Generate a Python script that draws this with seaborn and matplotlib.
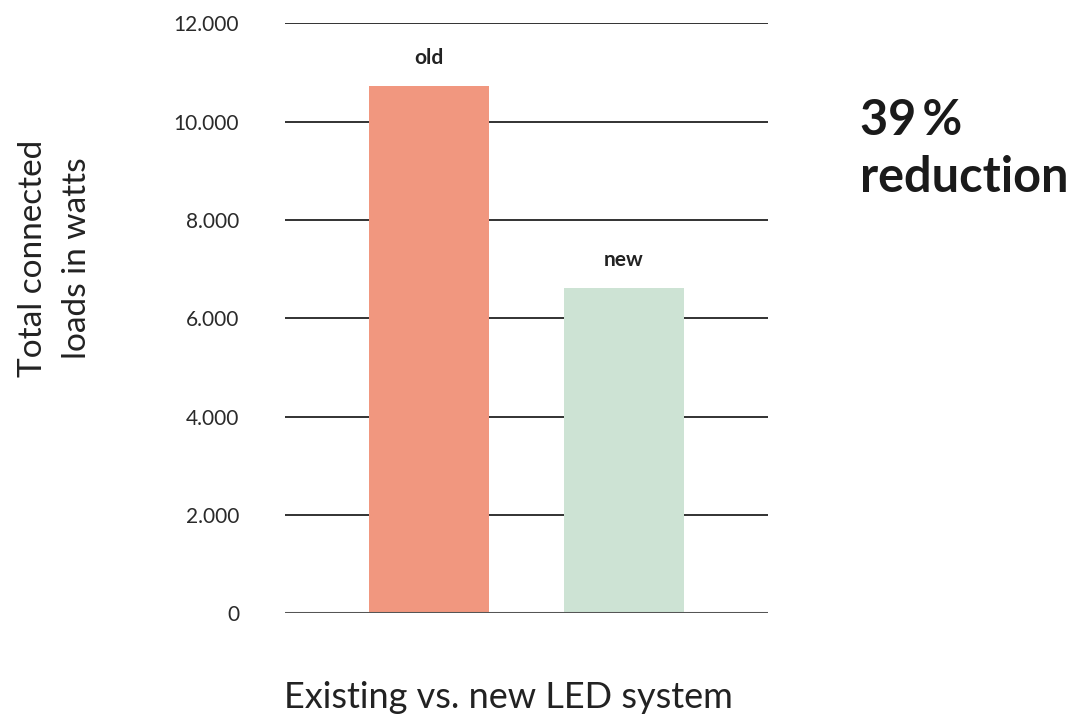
import pandas as pd
import matplotlib
matplotlib.use("Agg")
import matplotlib.pyplot as plt
from matplotlib.ticker import FuncFormatter
import seaborn as sns

# data
systems = ["old", "new"]
watts = [10730, 6620]
bar_colors = ["#F1977F", "#CDE3D4"]
y_ticks = [0, 2000, 4000, 6000, 8000, 10000, 12000]

df = pd.DataFrame({"system": systems, "watts": watts})

sns.set_style("white")
plt.rcParams["font.family"] = ["Lato", "DejaVu Sans"]

fig = plt.figure(figsize=(10.81, 7.17), dpi=100)
ax = fig.add_axes([0.2636, 0.1444, 0.4468, 0.8231])

sns.barplot(data=df, x="system", y="watts", hue="system",
            palette=bar_colors, width=0.615, legend=False, ax=ax,
            saturation=1, linewidth=0)

ax.set_xlim(-0.738, 1.738)
ax.set_ylim(0, 12000)
ax.set_yticks(y_ticks)
ax.yaxis.set_major_formatter(FuncFormatter(lambda v, p: f"{int(v):,}".replace(",", ".")))
ax.tick_params(axis="y", length=0, pad=33, labelsize=15, labelcolor="#2a2a2a")
ax.set_xticks([])
ax.set_xlabel("")
ax.set_ylabel("")

# horizontal grid lines drawn behind the bars
for t in y_ticks[1:]:
    ax.axhline(t, color="#222222", lw=1.3, zorder=0)
ax.axhline(0, color="#555555", lw=2.2, zorder=3)

for s in ax.spines.values():
    s.set_visible(False)

# labels above bars
for i, (name, v) in enumerate(zip(systems, watts)):
    ax.annotate(name, (i, v), xytext=(0, 13), textcoords="offset points",
                ha="center", va="bottom", fontsize=15, fontweight="bold",
                color="#222222")

fig.text(55 / 1081, 1 - 258 / 717, "Total connected\nloads in watts",
         rotation=90, fontsize=24, color="#222222",
         ha="center", va="center", linespacing=1.6, multialignment="center")
fig.text(508 / 1081, 1 - 697 / 717, "Existing vs. new LED system",
         fontsize=26, color="#222222", ha="center", va="center")

fig.text(0.796, 0.864, "39\u2009%\nreduction", fontsize=35, fontweight="bold",
         color="#1a1a1a", ha="left", va="top", linespacing=1.35)

plt.savefig("out.png", dpi=100)
plt.close()
